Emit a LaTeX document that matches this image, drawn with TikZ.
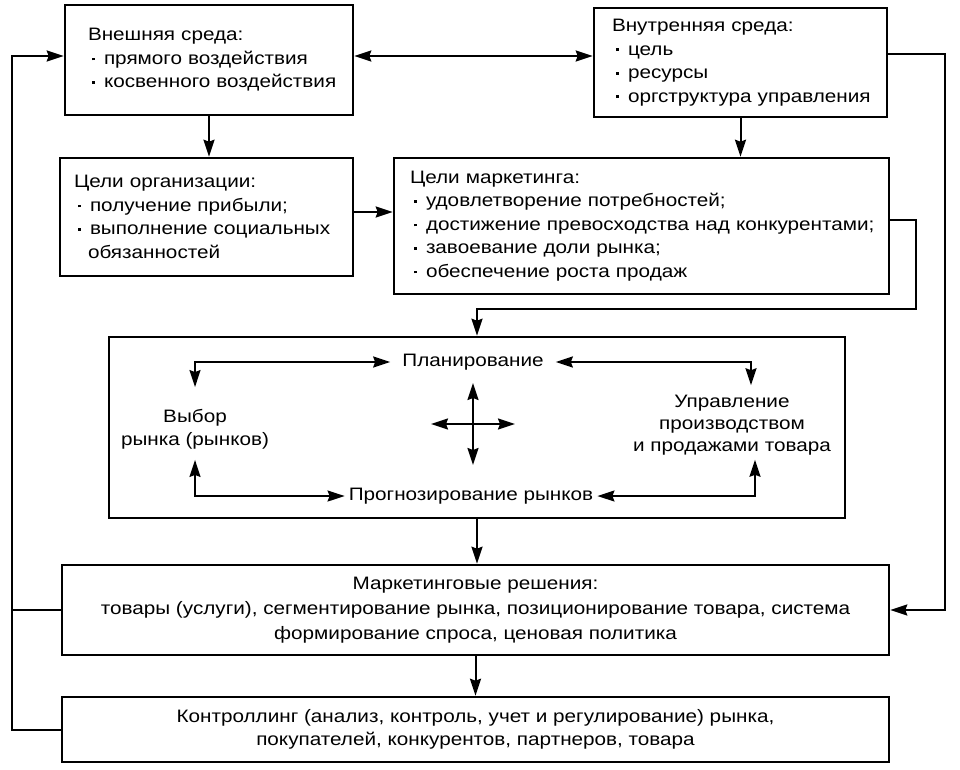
\documentclass[tikz,border=0pt]{standalone}
\usepackage{fontspec}
\setmainfont{Liberation Sans}[FakeStretch=1.15]
\usetikzlibrary{arrows.meta,positioning}
\newcommand{\bodyfont}{\fontsize{18}{23.5}\selectfont}
\newcommand{\wideline}{\fontsize{18}{25}\selectfont}
\newcommand{\itm}[1]{\mbox{\hspace*{4pt}\makebox[12pt][l]{\raisebox{4pt}{\rule{2.8pt}{2.8pt}}}#1}}
\tikzset{box/.style={draw,line width=2.6pt,inner ysep=0pt,align=left,font=\bodyfont},
  bigbox/.style={draw,line width=2.6pt,inner sep=0pt,minimum width=827pt,align=center,font=\wideline},
  lbl/.style={inner xsep=12pt,inner ysep=10pt,align=center,font=\bodyfont},
  link/.style={line width=2pt},
  tip/.style={link,-{Stealth[length=17pt,width=11pt,inset=2pt]}},
  tips/.style={link,{Stealth[length=17pt,width=11pt,inset=2pt]}-{Stealth[length=17pt,width=11pt,inset=2pt]}}}

\begin{document}
\begin{tikzpicture}[x=1pt,y=-1pt]
\path[fill=white] (0,0) rectangle (960,770);
\useasboundingbox (0,0) rectangle (960,770);
% environment and goals
\node[box,minimum height=110pt,inner xsep=23pt,text width=242pt] (ext) at (209,60)
  {Внешняя среда:\\\itm{прямого воздействия}\\\itm{косвенного воздействия}};
\node[box,minimum height=109pt,inner xsep=18pt,text width=257pt] (int) at (740.5,62.5)
  {Внутренняя среда:\\\itm{цель}\\\itm{ресурсы}\\\itm{оргструктура управления}};
\node[box,minimum height=118pt,inner xsep=14pt,text width=265pt] (org) at (206.5,217)
  {Цели организации:\\\itm{получение прибыли;}\\\itm{выполнение социальных}\\\hspace*{14pt}обязанностей};
\node[box,minimum height=136pt,inner xsep=16pt,text width=463pt] (mkt) at (641.5,226)
  {Цели маркетинга:\\\itm{удовлетворение потребностей;}\\\itm{достижение превосходства над конкурентами;}\\
   \itm{завоевание доли рынка;}\\\itm{обеспечение роста продаж}};
% planning block
\node[draw,line width=2.6pt,minimum width=736pt,minimum height=181pt] (core) at (477,427.5) {};
\node[lbl] (planN) at (473,362) {Планирование};
\node[lbl] (choice) at (195,429.5) {Выбор\\рынка (рынков)};
\node[lbl,font={\fontsize{18}{22}\selectfont}] (mgmt) at (732,425.5) {Управление\\производством\\и продажами товара};
\node[lbl,inner xsep=4pt] (fcast) at (471,496) {Прогнозирование рынков};
\coordinate (cc) at (473,424);
% decisions and controlling
\node[bigbox,minimum height=90pt] (decis) at (475.5,610)
  {Маркетинговые решения:\\товары (услуги), сегментирование рынка, позиционирование товара, система\\формирование спроса, ценовая политика};
\node[bigbox,minimum height=65pt,font={\fontsize{18}{23}\selectfont}] (ctrl) at (475.5,729.5)
  {Контроллинг (анализ, контроль, учет и регулирование) рынка,\\покупателей, конкурентов, партнеров, товара};
% connectors
\coordinate (a1) at ([yshift=4pt]ext.east);
\coordinate (a1w) at ([yshift=4pt]ext.west);
\coordinate (a2) at ([yshift=5pt]org.east);
\coordinate (a3) at ([yshift=6pt]mkt.east);
\coordinate (a4) at ([yshift=8pt]int.east);
\coordinate (j1) at (916,309);
\coordinate (fb) at (12,0);
\draw[tips] (a1) -- (a1 -| int.west);
\draw[tip] (ext.south) -- (ext.south |- org.north);
\draw[tip] (int.south) -- (int.south |- mkt.north);
\draw[tip] (a2) -- (a2 -| mkt.west);
\draw[tip] (a3) -| (j1) -| (core.north);
\draw[tip] (a4) -- ++(57,0) |- (decis.east);
\draw[tip] (core.south) -- (core.south |- decis.north);
\draw[tip] (decis.south) -- (decis.south |- ctrl.north);
\draw[tip] (ctrl.west) -- (ctrl.west -| fb) |- (a1w);
\draw[link] (decis.west) -- (decis.west -| fb);
% inside the planning block
\draw[tips] (planN.west) -| ([yshift=12pt]choice.north);
\draw[tips] (planN.east) -| ([xshift=19pt]mgmt.north);
\draw[tips] (fcast.west) -| (choice.south);
\draw[tips] (fcast.east) -| ([xshift=23pt,yshift=6pt]mgmt.south);
\draw[tips] ([yshift=41pt]cc) -- ([yshift=-41pt]cc);
\draw[tips] ([xshift=-42pt]cc) -- ([xshift=42pt]cc);
\end{tikzpicture}
\end{document}
